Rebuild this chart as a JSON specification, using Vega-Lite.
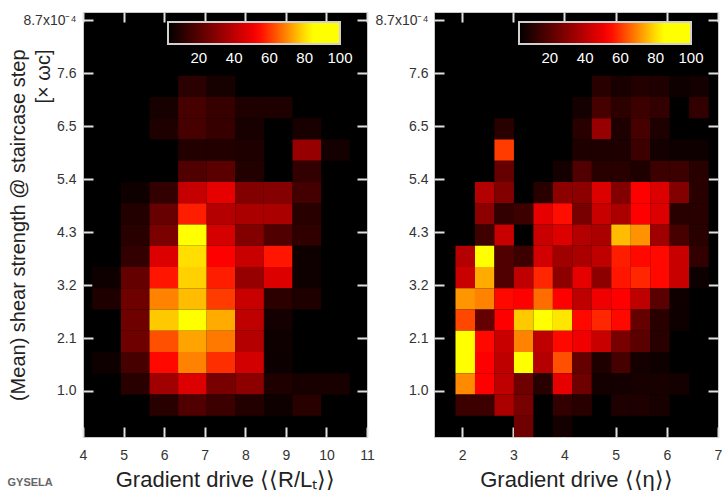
{
  "$schema": "https://vega.github.io/schema/vega-lite/v6.json",
  "background": "white",
  "padding": {"left": 7, "top": 10, "right": 0, "bottom": 0},
  "title": {"text": "GYSELA", "orient": "bottom", "anchor": "start", "fontSize": 11, "fontWeight": "bold", "color": "#666666", "font": "Liberation Sans", "offset": -14},
  "config": {
    "font": "Liberation Sans",
    "view": {"fill": "#000000", "stroke": "#c8c8c8", "strokeWidth": 1},
    "axis": {"domain": false, "grid": false, "ticks": true, "tickColor": "#e0e0e0", "tickOpacity": 1, "tickWidth": 2, "tickSize": 10, "offset": -10, "zindex": 2, "labelFlush": false, "labelOverlap": false, "labelFont": "Liberation Sans", "labelFontSize": 14, "labelColor": "#333333", "titleFont": "Liberation Sans", "titleFontSize": 22, "titleFontWeight": "normal", "titleColor": "#222222", "minExtent": 0},
    "concat": {"spacing": -1}
  },
  "resolve": {"scale": {"color": "independent"}},
  "datasets": {
    "gradRL": [
      {"x0":6.344,"x1":7.049,"y0":7.106,"y1":7.548,"n":11},
      {"x0":7.049,"x1":7.754,"y0":7.106,"y1":7.548,"n":7},
      {"x0":5.639,"x1":6.344,"y0":6.665,"y1":7.106,"n":7},
      {"x0":6.344,"x1":7.049,"y0":6.665,"y1":7.106,"n":16.5},
      {"x0":7.049,"x1":7.754,"y0":6.665,"y1":7.106,"n":13.5},
      {"x0":7.754,"x1":8.459,"y0":6.665,"y1":7.106,"n":8.5},
      {"x0":8.459,"x1":9.164,"y0":6.665,"y1":7.106,"n":8.5},
      {"x0":5.639,"x1":6.344,"y0":6.224,"y1":6.665,"n":8.5},
      {"x0":6.344,"x1":7.049,"y0":6.224,"y1":6.665,"n":16.5},
      {"x0":7.049,"x1":7.754,"y0":6.224,"y1":6.665,"n":13.5},
      {"x0":7.754,"x1":8.459,"y0":6.224,"y1":6.665,"n":7.5},
      {"x0":9.164,"x1":9.869,"y0":6.224,"y1":6.665,"n":7.5},
      {"x0":6.344,"x1":7.049,"y0":5.782,"y1":6.224,"n":9.5},
      {"x0":7.049,"x1":7.754,"y0":5.782,"y1":6.224,"n":9.5},
      {"x0":7.754,"x1":8.459,"y0":5.782,"y1":6.224,"n":8.5},
      {"x0":9.164,"x1":9.869,"y0":5.782,"y1":6.224,"n":32.5},
      {"x0":9.869,"x1":10.574,"y0":5.782,"y1":6.224,"n":6.5},
      {"x0":6.344,"x1":7.049,"y0":5.341,"y1":5.782,"n":18.5},
      {"x0":7.049,"x1":7.754,"y0":5.341,"y1":5.782,"n":20.5},
      {"x0":7.754,"x1":8.459,"y0":5.341,"y1":5.782,"n":9.5},
      {"x0":9.164,"x1":9.869,"y0":5.341,"y1":5.782,"n":12.5},
      {"x0":4.934,"x1":5.639,"y0":4.899,"y1":5.341,"n":5.5},
      {"x0":5.639,"x1":6.344,"y0":4.899,"y1":5.341,"n":12.5},
      {"x0":6.344,"x1":7.049,"y0":4.899,"y1":5.341,"n":42},
      {"x0":7.049,"x1":7.754,"y0":4.899,"y1":5.341,"n":48.5},
      {"x0":7.754,"x1":8.459,"y0":4.899,"y1":5.341,"n":28.5},
      {"x0":8.459,"x1":9.164,"y0":4.899,"y1":5.341,"n":29},
      {"x0":9.164,"x1":9.869,"y0":4.899,"y1":5.341,"n":16},
      {"x0":4.934,"x1":5.639,"y0":4.458,"y1":4.899,"n":9.5},
      {"x0":5.639,"x1":6.344,"y0":4.458,"y1":4.899,"n":23},
      {"x0":6.344,"x1":7.049,"y0":4.458,"y1":4.899,"n":57},
      {"x0":7.049,"x1":7.754,"y0":4.458,"y1":4.899,"n":38.5},
      {"x0":7.754,"x1":8.459,"y0":4.458,"y1":4.899,"n":36.5},
      {"x0":8.459,"x1":9.164,"y0":4.458,"y1":4.899,"n":36.5},
      {"x0":9.164,"x1":9.869,"y0":4.458,"y1":4.899,"n":10.5},
      {"x0":4.934,"x1":5.639,"y0":4.017,"y1":4.458,"n":10.5},
      {"x0":5.639,"x1":6.344,"y0":4.017,"y1":4.458,"n":27},
      {"x0":6.344,"x1":7.049,"y0":4.017,"y1":4.458,"n":95},
      {"x0":7.049,"x1":7.754,"y0":4.017,"y1":4.458,"n":45},
      {"x0":7.754,"x1":8.459,"y0":4.017,"y1":4.458,"n":28.5},
      {"x0":8.459,"x1":9.164,"y0":4.017,"y1":4.458,"n":18.5},
      {"x0":9.164,"x1":9.869,"y0":4.017,"y1":4.458,"n":12},
      {"x0":4.934,"x1":5.639,"y0":3.575,"y1":4.017,"n":12.5},
      {"x0":5.639,"x1":6.344,"y0":3.575,"y1":4.017,"n":46.5},
      {"x0":6.344,"x1":7.049,"y0":3.575,"y1":4.017,"n":80},
      {"x0":7.049,"x1":7.754,"y0":3.575,"y1":4.017,"n":53.5},
      {"x0":7.754,"x1":8.459,"y0":3.575,"y1":4.017,"n":42.5},
      {"x0":8.459,"x1":9.164,"y0":3.575,"y1":4.017,"n":56},
      {"x0":9.164,"x1":9.869,"y0":3.575,"y1":4.017,"n":5.5},
      {"x0":4.229,"x1":4.934,"y0":3.134,"y1":3.575,"n":5.5},
      {"x0":4.934,"x1":5.639,"y0":3.134,"y1":3.575,"n":22.5},
      {"x0":5.639,"x1":6.344,"y0":3.134,"y1":3.575,"n":56},
      {"x0":6.344,"x1":7.049,"y0":3.134,"y1":3.575,"n":78.5},
      {"x0":7.049,"x1":7.754,"y0":3.134,"y1":3.575,"n":57},
      {"x0":7.754,"x1":8.459,"y0":3.134,"y1":3.575,"n":32.5},
      {"x0":8.459,"x1":9.164,"y0":3.134,"y1":3.575,"n":46.5},
      {"x0":9.164,"x1":9.869,"y0":3.134,"y1":3.575,"n":5.5},
      {"x0":4.229,"x1":4.934,"y0":2.692,"y1":3.134,"n":8.5},
      {"x0":4.934,"x1":5.639,"y0":2.692,"y1":3.134,"n":24.5},
      {"x0":5.639,"x1":6.344,"y0":2.692,"y1":3.134,"n":69},
      {"x0":6.344,"x1":7.049,"y0":2.692,"y1":3.134,"n":76},
      {"x0":7.049,"x1":7.754,"y0":2.692,"y1":3.134,"n":60.5},
      {"x0":7.754,"x1":8.459,"y0":2.692,"y1":3.134,"n":42.5},
      {"x0":8.459,"x1":9.164,"y0":2.692,"y1":3.134,"n":11.5},
      {"x0":9.164,"x1":9.869,"y0":2.692,"y1":3.134,"n":8.5},
      {"x0":4.934,"x1":5.639,"y0":2.251,"y1":2.692,"n":24.5},
      {"x0":5.639,"x1":6.344,"y0":2.251,"y1":2.692,"n":77.5},
      {"x0":6.344,"x1":7.049,"y0":2.251,"y1":2.692,"n":95},
      {"x0":7.049,"x1":7.754,"y0":2.251,"y1":2.692,"n":74},
      {"x0":7.754,"x1":8.459,"y0":2.251,"y1":2.692,"n":40.5},
      {"x0":8.459,"x1":9.164,"y0":2.251,"y1":2.692,"n":6.5},
      {"x0":4.934,"x1":5.639,"y0":1.810,"y1":2.251,"n":24.5},
      {"x0":5.639,"x1":6.344,"y0":1.810,"y1":2.251,"n":63},
      {"x0":6.344,"x1":7.049,"y0":1.810,"y1":2.251,"n":73},
      {"x0":7.049,"x1":7.754,"y0":1.810,"y1":2.251,"n":68},
      {"x0":7.754,"x1":8.459,"y0":1.810,"y1":2.251,"n":38.5},
      {"x0":8.459,"x1":9.164,"y0":1.810,"y1":2.251,"n":5.5},
      {"x0":4.229,"x1":4.934,"y0":1.368,"y1":1.810,"n":5.5},
      {"x0":4.934,"x1":5.639,"y0":1.368,"y1":1.810,"n":16.5},
      {"x0":5.639,"x1":6.344,"y0":1.368,"y1":1.810,"n":54.5},
      {"x0":6.344,"x1":7.049,"y0":1.368,"y1":1.810,"n":69},
      {"x0":7.049,"x1":7.754,"y0":1.368,"y1":1.810,"n":59},
      {"x0":7.754,"x1":8.459,"y0":1.368,"y1":1.810,"n":44.5},
      {"x0":8.459,"x1":9.164,"y0":1.368,"y1":1.810,"n":5},
      {"x0":4.934,"x1":5.639,"y0":0.927,"y1":1.368,"n":10.5},
      {"x0":5.639,"x1":6.344,"y0":0.927,"y1":1.368,"n":34.5},
      {"x0":6.344,"x1":7.049,"y0":0.927,"y1":1.368,"n":46.5},
      {"x0":7.049,"x1":7.754,"y0":0.927,"y1":1.368,"n":26.5},
      {"x0":7.754,"x1":8.459,"y0":0.927,"y1":1.368,"n":30.5},
      {"x0":8.459,"x1":9.164,"y0":0.927,"y1":1.368,"n":8.5},
      {"x0":9.164,"x1":9.869,"y0":0.927,"y1":1.368,"n":7.5},
      {"x0":9.869,"x1":10.574,"y0":0.927,"y1":1.368,"n":7.5},
      {"x0":5.639,"x1":6.344,"y0":0.485,"y1":0.927,"n":10.5},
      {"x0":6.344,"x1":7.049,"y0":0.485,"y1":0.927,"n":18.5},
      {"x0":7.049,"x1":7.754,"y0":0.485,"y1":0.927,"n":14.5},
      {"x0":7.754,"x1":8.459,"y0":0.485,"y1":0.927,"n":9.5},
      {"x0":8.459,"x1":9.164,"y0":0.485,"y1":0.927,"n":5.5},
      {"x0":9.164,"x1":9.869,"y0":0.485,"y1":0.927,"n":10.5}
    ],
    "gradEta": [
      {"x0":4.534,"x1":4.914,"y0":7.106,"y1":7.548,"n":10.5},
      {"x0":4.914,"x1":5.295,"y0":7.106,"y1":7.548,"n":7.5},
      {"x0":5.295,"x1":5.675,"y0":7.106,"y1":7.548,"n":9.5},
      {"x0":5.675,"x1":6.056,"y0":7.106,"y1":7.548,"n":8.5},
      {"x0":6.056,"x1":6.436,"y0":7.106,"y1":7.548,"n":5.5},
      {"x0":6.436,"x1":6.817,"y0":7.106,"y1":7.548,"n":6.5},
      {"x0":4.153,"x1":4.534,"y0":6.665,"y1":7.106,"n":6.5},
      {"x0":4.534,"x1":4.914,"y0":6.665,"y1":7.106,"n":16.5},
      {"x0":4.914,"x1":5.295,"y0":6.665,"y1":7.106,"n":11.5},
      {"x0":5.295,"x1":5.675,"y0":6.665,"y1":7.106,"n":14.5},
      {"x0":5.675,"x1":6.056,"y0":6.665,"y1":7.106,"n":12.5},
      {"x0":6.436,"x1":6.817,"y0":6.665,"y1":7.106,"n":12.5},
      {"x0":2.631,"x1":3.012,"y0":6.224,"y1":6.665,"n":10.5},
      {"x0":4.153,"x1":4.534,"y0":6.224,"y1":6.665,"n":10.5},
      {"x0":4.534,"x1":4.914,"y0":6.224,"y1":6.665,"n":32.5},
      {"x0":4.914,"x1":5.295,"y0":6.224,"y1":6.665,"n":8.5},
      {"x0":5.295,"x1":5.675,"y0":6.224,"y1":6.665,"n":16.5},
      {"x0":5.675,"x1":6.056,"y0":6.224,"y1":6.665,"n":8.5},
      {"x0":2.631,"x1":3.012,"y0":5.782,"y1":6.224,"n":60.5},
      {"x0":4.153,"x1":4.534,"y0":5.782,"y1":6.224,"n":8.5},
      {"x0":4.534,"x1":4.914,"y0":5.782,"y1":6.224,"n":8.5},
      {"x0":4.914,"x1":5.295,"y0":5.782,"y1":6.224,"n":8.5},
      {"x0":5.295,"x1":5.675,"y0":5.782,"y1":6.224,"n":14.5},
      {"x0":5.675,"x1":6.056,"y0":5.782,"y1":6.224,"n":6.5},
      {"x0":6.056,"x1":6.436,"y0":5.782,"y1":6.224,"n":5.5},
      {"x0":6.436,"x1":6.817,"y0":5.782,"y1":6.224,"n":5.5},
      {"x0":2.631,"x1":3.012,"y0":5.341,"y1":5.782,"n":22.5},
      {"x0":3.773,"x1":4.153,"y0":5.341,"y1":5.782,"n":6.5},
      {"x0":4.153,"x1":4.534,"y0":5.341,"y1":5.782,"n":18.5},
      {"x0":4.534,"x1":4.914,"y0":5.341,"y1":5.782,"n":10.5},
      {"x0":4.914,"x1":5.295,"y0":5.341,"y1":5.782,"n":10.5},
      {"x0":5.295,"x1":5.675,"y0":5.341,"y1":5.782,"n":8.5},
      {"x0":5.675,"x1":6.056,"y0":5.341,"y1":5.782,"n":14.5},
      {"x0":6.056,"x1":6.436,"y0":5.341,"y1":5.782,"n":14.5},
      {"x0":6.436,"x1":6.817,"y0":5.341,"y1":5.782,"n":10.5},
      {"x0":2.251,"x1":2.631,"y0":4.899,"y1":5.341,"n":38.5},
      {"x0":2.631,"x1":3.012,"y0":4.899,"y1":5.341,"n":28.5},
      {"x0":3.392,"x1":3.773,"y0":4.899,"y1":5.341,"n":10.5},
      {"x0":3.773,"x1":4.153,"y0":4.899,"y1":5.341,"n":30.5},
      {"x0":4.153,"x1":4.534,"y0":4.899,"y1":5.341,"n":30.5},
      {"x0":4.534,"x1":4.914,"y0":4.899,"y1":5.341,"n":46.5},
      {"x0":4.914,"x1":5.295,"y0":4.899,"y1":5.341,"n":28.5},
      {"x0":5.295,"x1":5.675,"y0":4.899,"y1":5.341,"n":53.5},
      {"x0":5.675,"x1":6.056,"y0":4.899,"y1":5.341,"n":46.5},
      {"x0":6.056,"x1":6.436,"y0":4.899,"y1":5.341,"n":28.5},
      {"x0":6.436,"x1":6.817,"y0":4.899,"y1":5.341,"n":10.5},
      {"x0":2.251,"x1":2.631,"y0":4.458,"y1":4.899,"n":30.5},
      {"x0":2.631,"x1":3.012,"y0":4.458,"y1":4.899,"n":12.5},
      {"x0":3.012,"x1":3.392,"y0":4.458,"y1":4.899,"n":14.5},
      {"x0":3.392,"x1":3.773,"y0":4.458,"y1":4.899,"n":48.5},
      {"x0":3.773,"x1":4.153,"y0":4.458,"y1":4.899,"n":55},
      {"x0":4.153,"x1":4.534,"y0":4.458,"y1":4.899,"n":26.5},
      {"x0":4.534,"x1":4.914,"y0":4.458,"y1":4.899,"n":42.5},
      {"x0":4.914,"x1":5.295,"y0":4.458,"y1":4.899,"n":36.5},
      {"x0":5.295,"x1":5.675,"y0":4.458,"y1":4.899,"n":53.5},
      {"x0":5.675,"x1":6.056,"y0":4.458,"y1":4.899,"n":46.5},
      {"x0":6.056,"x1":6.436,"y0":4.458,"y1":4.899,"n":10.5},
      {"x0":6.436,"x1":6.817,"y0":4.458,"y1":4.899,"n":10.5},
      {"x0":2.251,"x1":2.631,"y0":4.017,"y1":4.458,"n":15},
      {"x0":2.631,"x1":3.012,"y0":4.017,"y1":4.458,"n":42.5},
      {"x0":3.392,"x1":3.773,"y0":4.017,"y1":4.458,"n":42.5},
      {"x0":3.773,"x1":4.153,"y0":4.017,"y1":4.458,"n":46.5},
      {"x0":4.153,"x1":4.534,"y0":4.017,"y1":4.458,"n":38.5},
      {"x0":4.534,"x1":4.914,"y0":4.017,"y1":4.458,"n":36.5},
      {"x0":4.914,"x1":5.295,"y0":4.017,"y1":4.458,"n":76},
      {"x0":5.295,"x1":5.675,"y0":4.017,"y1":4.458,"n":71},
      {"x0":5.675,"x1":6.056,"y0":4.017,"y1":4.458,"n":34.5},
      {"x0":6.056,"x1":6.436,"y0":4.017,"y1":4.458,"n":16.5},
      {"x0":6.436,"x1":6.817,"y0":4.017,"y1":4.458,"n":10.5},
      {"x0":1.870,"x1":2.251,"y0":3.575,"y1":4.017,"n":38.5},
      {"x0":2.251,"x1":2.631,"y0":3.575,"y1":4.017,"n":95},
      {"x0":2.631,"x1":3.012,"y0":3.575,"y1":4.017,"n":18.5},
      {"x0":3.012,"x1":3.392,"y0":3.575,"y1":4.017,"n":14.5},
      {"x0":3.392,"x1":3.773,"y0":3.575,"y1":4.017,"n":44.5},
      {"x0":3.773,"x1":4.153,"y0":3.575,"y1":4.017,"n":34.5},
      {"x0":4.153,"x1":4.534,"y0":3.575,"y1":4.017,"n":36.5},
      {"x0":4.534,"x1":4.914,"y0":3.575,"y1":4.017,"n":40.5},
      {"x0":4.914,"x1":5.295,"y0":3.575,"y1":4.017,"n":57},
      {"x0":5.295,"x1":5.675,"y0":3.575,"y1":4.017,"n":54.5},
      {"x0":5.675,"x1":6.056,"y0":3.575,"y1":4.017,"n":54.5},
      {"x0":6.056,"x1":6.436,"y0":3.575,"y1":4.017,"n":42.5},
      {"x0":6.436,"x1":6.817,"y0":3.575,"y1":4.017,"n":12.5},
      {"x0":1.870,"x1":2.251,"y0":3.134,"y1":3.575,"n":42.5},
      {"x0":2.251,"x1":2.631,"y0":3.134,"y1":3.575,"n":74},
      {"x0":2.631,"x1":3.012,"y0":3.134,"y1":3.575,"n":18.5},
      {"x0":3.012,"x1":3.392,"y0":3.134,"y1":3.575,"n":40.5},
      {"x0":3.392,"x1":3.773,"y0":3.134,"y1":3.575,"n":58},
      {"x0":3.773,"x1":4.153,"y0":3.134,"y1":3.575,"n":30.5},
      {"x0":4.153,"x1":4.534,"y0":3.134,"y1":3.575,"n":48.5},
      {"x0":4.534,"x1":4.914,"y0":3.134,"y1":3.575,"n":30.5},
      {"x0":4.914,"x1":5.295,"y0":3.134,"y1":3.575,"n":56},
      {"x0":5.295,"x1":5.675,"y0":3.134,"y1":3.575,"n":58},
      {"x0":5.675,"x1":6.056,"y0":3.134,"y1":3.575,"n":54.5},
      {"x0":6.056,"x1":6.436,"y0":3.134,"y1":3.575,"n":42.5},
      {"x0":6.436,"x1":6.817,"y0":3.134,"y1":3.575,"n":5},
      {"x0":1.870,"x1":2.251,"y0":2.692,"y1":3.134,"n":71.5},
      {"x0":2.251,"x1":2.631,"y0":2.692,"y1":3.134,"n":69},
      {"x0":2.631,"x1":3.012,"y0":2.692,"y1":3.134,"n":54.5},
      {"x0":3.012,"x1":3.392,"y0":2.692,"y1":3.134,"n":53.5},
      {"x0":3.392,"x1":3.773,"y0":2.692,"y1":3.134,"n":66.5},
      {"x0":3.773,"x1":4.153,"y0":2.692,"y1":3.134,"n":53.5},
      {"x0":4.153,"x1":4.534,"y0":2.692,"y1":3.134,"n":40.5},
      {"x0":4.534,"x1":4.914,"y0":2.692,"y1":3.134,"n":50.5},
      {"x0":4.914,"x1":5.295,"y0":2.692,"y1":3.134,"n":53.5},
      {"x0":5.295,"x1":5.675,"y0":2.692,"y1":3.134,"n":40.5},
      {"x0":5.675,"x1":6.056,"y0":2.692,"y1":3.134,"n":20.5},
      {"x0":6.056,"x1":6.436,"y0":2.692,"y1":3.134,"n":5.5},
      {"x0":1.870,"x1":2.251,"y0":2.251,"y1":2.692,"n":62},
      {"x0":2.251,"x1":2.631,"y0":2.251,"y1":2.692,"n":22.5},
      {"x0":2.631,"x1":3.012,"y0":2.251,"y1":2.692,"n":53.5},
      {"x0":3.012,"x1":3.392,"y0":2.251,"y1":2.692,"n":77.5},
      {"x0":3.392,"x1":3.773,"y0":2.251,"y1":2.692,"n":95},
      {"x0":3.773,"x1":4.153,"y0":2.251,"y1":2.692,"n":81},
      {"x0":4.153,"x1":4.534,"y0":2.251,"y1":2.692,"n":54.5},
      {"x0":4.534,"x1":4.914,"y0":2.251,"y1":2.692,"n":58},
      {"x0":4.914,"x1":5.295,"y0":2.251,"y1":2.692,"n":54.5},
      {"x0":5.295,"x1":5.675,"y0":2.251,"y1":2.692,"n":22.5},
      {"x0":5.675,"x1":6.056,"y0":2.251,"y1":2.692,"n":10.5},
      {"x0":6.056,"x1":6.436,"y0":2.251,"y1":2.692,"n":5.5},
      {"x0":1.870,"x1":2.251,"y0":1.810,"y1":2.251,"n":95},
      {"x0":2.251,"x1":2.631,"y0":1.810,"y1":2.251,"n":54.5},
      {"x0":2.631,"x1":3.012,"y0":1.810,"y1":2.251,"n":42.5},
      {"x0":3.012,"x1":3.392,"y0":1.810,"y1":2.251,"n":69},
      {"x0":3.392,"x1":3.773,"y0":1.810,"y1":2.251,"n":40.5},
      {"x0":3.773,"x1":4.153,"y0":1.810,"y1":2.251,"n":54.5},
      {"x0":4.153,"x1":4.534,"y0":1.810,"y1":2.251,"n":50.5},
      {"x0":4.534,"x1":4.914,"y0":1.810,"y1":2.251,"n":42.5},
      {"x0":4.914,"x1":5.295,"y0":1.810,"y1":2.251,"n":26.5},
      {"x0":5.295,"x1":5.675,"y0":1.810,"y1":2.251,"n":20.5},
      {"x0":5.675,"x1":6.056,"y0":1.810,"y1":2.251,"n":10.5},
      {"x0":1.870,"x1":2.251,"y0":1.368,"y1":1.810,"n":95},
      {"x0":2.251,"x1":2.631,"y0":1.368,"y1":1.810,"n":53.5},
      {"x0":2.631,"x1":3.012,"y0":1.368,"y1":1.810,"n":40.5},
      {"x0":3.012,"x1":3.392,"y0":1.368,"y1":1.810,"n":92},
      {"x0":3.392,"x1":3.773,"y0":1.368,"y1":1.810,"n":38.5},
      {"x0":3.773,"x1":4.153,"y0":1.368,"y1":1.810,"n":63},
      {"x0":4.153,"x1":4.534,"y0":1.368,"y1":1.810,"n":22.5},
      {"x0":4.534,"x1":4.914,"y0":1.368,"y1":1.810,"n":8.5},
      {"x0":4.914,"x1":5.295,"y0":1.368,"y1":1.810,"n":16.5},
      {"x0":5.295,"x1":5.675,"y0":1.368,"y1":1.810,"n":6.5},
      {"x0":5.675,"x1":6.056,"y0":1.368,"y1":1.810,"n":5.5},
      {"x0":1.870,"x1":2.251,"y0":0.927,"y1":1.368,"n":70},
      {"x0":2.251,"x1":2.631,"y0":0.927,"y1":1.368,"n":53.5},
      {"x0":2.631,"x1":3.012,"y0":0.927,"y1":1.368,"n":40.5},
      {"x0":3.012,"x1":3.392,"y0":0.927,"y1":1.368,"n":24.5},
      {"x0":3.392,"x1":3.773,"y0":0.927,"y1":1.368,"n":10.5},
      {"x0":3.773,"x1":4.153,"y0":0.927,"y1":1.368,"n":48.5},
      {"x0":4.153,"x1":4.534,"y0":0.927,"y1":1.368,"n":24.5},
      {"x0":4.534,"x1":4.914,"y0":0.927,"y1":1.368,"n":6.5},
      {"x0":4.914,"x1":5.295,"y0":0.927,"y1":1.368,"n":6.5},
      {"x0":5.295,"x1":5.675,"y0":0.927,"y1":1.368,"n":7.5},
      {"x0":5.675,"x1":6.056,"y0":0.927,"y1":1.368,"n":7.5},
      {"x0":6.056,"x1":6.436,"y0":0.927,"y1":1.368,"n":6.5},
      {"x0":1.870,"x1":2.251,"y0":0.485,"y1":0.927,"n":14.5},
      {"x0":2.251,"x1":2.631,"y0":0.485,"y1":0.927,"n":14.5},
      {"x0":2.631,"x1":3.012,"y0":0.485,"y1":0.927,"n":36.5},
      {"x0":3.012,"x1":3.392,"y0":0.485,"y1":0.927,"n":26.5},
      {"x0":3.773,"x1":4.153,"y0":0.485,"y1":0.927,"n":12.5},
      {"x0":4.153,"x1":4.534,"y0":0.485,"y1":0.927,"n":10.5},
      {"x0":4.914,"x1":5.295,"y0":0.485,"y1":0.927,"n":8.5},
      {"x0":5.295,"x1":5.675,"y0":0.485,"y1":0.927,"n":8.5},
      {"x0":5.675,"x1":6.056,"y0":0.485,"y1":0.927,"n":7.5},
      {"x0":3.012,"x1":3.392,"y0":0.044,"y1":0.485,"n":24.5},
      {"x0":3.773,"x1":4.153,"y0":0.044,"y1":0.485,"n":6.5}
    ]
  },
  "hconcat": [
    {
      "width": 284,
      "height": 425,
      "data": {"name": "gradRL"},
      "layer": [
        {
          "mark": {"type": "rect", "clip": true},
          "encoding": {
            "x": {"field": "x0", "type": "quantitative", "scale": {"domain": [4, 11], "nice": false, "zero": false},
                  "axis": {"orient": "bottom", "values": [4, 5, 6, 7, 8, 9, 10, 11], "format": "d", "labelPadding": 11, "title": "Gradient drive   ⟨⟨R/Lₜ⟩⟩", "titlePadding": 7}},
            "x2": {"field": "x1"},
            "y": {"field": "y0", "type": "quantitative", "scale": {"domain": [0.044, 8.872], "nice": false, "zero": false},
                  "axis": {"orient": "left", "values": [1.0, 2.1, 3.2, 4.3, 5.4, 6.5, 7.6, 8.7], "labelExpr": "datum.value > 8.6 ? '8.7x10⁻⁴' : format(datum.value, '.1f')", "labelPadding": 7,
                           "title": ["(Mean) shear strength @ staircase step", "[× ωc]"], "titleAngle": 270, "titleAlign": "right", "titleBaseline": "top", "titleX": -85, "titleY": 37, "titleLineHeight": 25, "titleFontSize": 20}},
            "y2": {"field": "y1"},
            "color": {"field": "n", "type": "quantitative",
                      "scale": {"type": "linear", "domain": [2.5, 53.5, 84, 100.01], "range": ["#000000", "#ff0000", "#ffff00", "#ffff00"], "clamp": true, "interpolate": "rgb"},
                      "legend": {"orient": "none", "legendX": 85, "legendY": 10, "direction": "horizontal", "title": null, "gradientLength": 172, "gradientThickness": 22, "gradientStrokeColor": "#d0d0d0", "gradientStrokeWidth": 2, "values": [20, 40, 60, 80, 100], "labelColor": "#ffffff", "labelFontSize": 15, "labelOffset": 7, "labelOverlap": false, "padding": 0}}
          }
        },
        {
          "mark": {"type": "point", "opacity": 0},
          "encoding": {
            "x": {"field": "x0", "type": "quantitative", "axis": {"orient": "top", "values": [4, 5, 6, 7, 8, 9, 10, 11], "labels": false, "title": null}},
            "y": {"field": "y0", "type": "quantitative", "axis": {"orient": "right", "values": [1.0, 2.1, 3.2, 4.3, 5.4, 6.5, 7.6, 8.7], "labels": false, "title": null}}
          }
        }
      ],
      "resolve": {"axis": {"x": "independent", "y": "independent"}}
    },
    {
      "width": 284,
      "height": 425,
      "data": {"name": "gradEta"},
      "layer": [
        {
          "mark": {"type": "rect", "clip": true},
          "encoding": {
            "x": {"field": "x0", "type": "quantitative", "scale": {"domain": [1.45, 7.0], "nice": false, "zero": false},
                  "axis": {"orient": "bottom", "values": [2, 3, 4, 5, 6, 7], "format": "d", "labelPadding": 11, "title": "Gradient drive   ⟨⟨η⟩⟩", "titlePadding": 7}},
            "x2": {"field": "x1"},
            "y": {"field": "y0", "type": "quantitative", "scale": {"domain": [0.044, 8.872], "nice": false, "zero": false},
                  "axis": {"orient": "left", "values": [1.0, 2.1, 3.2, 4.3, 5.4, 6.5, 7.6, 8.7], "labelExpr": "datum.value > 8.6 ? '8.7x10⁻⁴' : format(datum.value, '.1f')", "labelPadding": 6, "title": null}},
            "y2": {"field": "y1"},
            "color": {"field": "n", "type": "quantitative",
                      "scale": {"type": "linear", "domain": [2.5, 53.5, 84, 100.01], "range": ["#000000", "#ff0000", "#ffff00", "#ffff00"], "clamp": true, "interpolate": "rgb"},
                      "legend": {"orient": "none", "legendX": 85, "legendY": 10, "direction": "horizontal", "title": null, "gradientLength": 172, "gradientThickness": 22, "gradientStrokeColor": "#d0d0d0", "gradientStrokeWidth": 2, "values": [20, 40, 60, 80, 100], "labelColor": "#ffffff", "labelFontSize": 15, "labelOffset": 7, "labelOverlap": false, "padding": 0}}
          }
        },
        {
          "mark": {"type": "point", "opacity": 0},
          "encoding": {
            "x": {"field": "x0", "type": "quantitative", "axis": {"orient": "top", "values": [2, 3, 4, 5, 6, 7], "labels": false, "title": null}},
            "y": {"field": "y0", "type": "quantitative", "axis": {"orient": "right", "values": [1.0, 2.1, 3.2, 4.3, 5.4, 6.5, 7.6, 8.7], "labels": false, "title": null}}
          }
        }
      ],
      "resolve": {"axis": {"x": "independent", "y": "independent"}}
    }
  ]
}
